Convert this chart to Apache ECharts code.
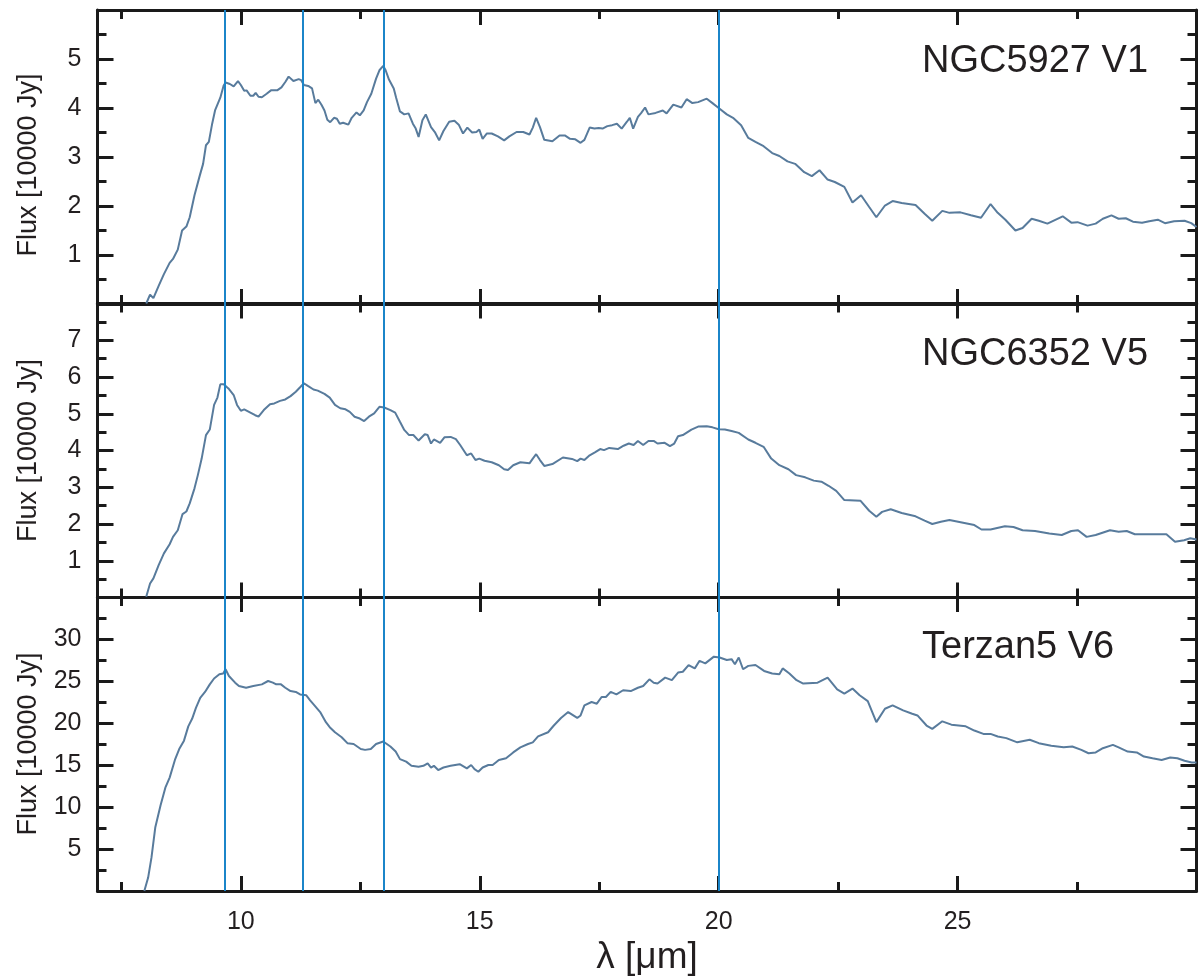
<!DOCTYPE html>
<html>
<head>
<meta charset="utf-8">
<script src="https://cdn.jsdelivr.net/npm/echarts@6/dist/echarts.min.js"></script>
<style>
  html, body { margin: 0; padding: 0; background: #ffffff; }
  #chart { width: 1200px; height: 978px; }
</style>
</head>
<body>
<div id="chart"></div>
<script>
// Wavelength axis (micron)
const xMin = 7;
const xMax = 30;
const xMajorTicks = [10, 15, 20, 25];
const xMinorTicks = [7.5, 12.5, 17.5, 22.5, 27.5];
const featureLines = [9.67, 11.3, 13.0, 20.0];

const panelNames = ['NGC5927 V1', 'NGC6352 V5', 'Terzan5 V6'];
const panelYMax = [6, 8, 35];
const panelYInterval = [1, 1, 5];
const panelYLabels = [
    [1, 2, 3, 4, 5],
    [1, 2, 3, 4, 5, 6, 7],
    [5, 10, 15, 20, 25, 30]
];

// [wavelength, flux]
const ngc5927 = [[8.02,0.01],[8.10,0.19],[8.17,0.12],[8.28,0.37],[8.39,0.61],[8.51,0.84],[8.58,0.92],[8.68,1.11],[8.77,1.50],[8.86,1.58],[8.93,1.77],[9.03,2.22],[9.14,2.62],[9.21,2.86],[9.27,3.24],[9.33,3.31],[9.40,3.68],[9.46,3.95],[9.57,4.21],[9.64,4.46],[9.68,4.52],[9.77,4.49],[9.85,4.44],[9.94,4.55],[10.0,4.47],[10.07,4.35],[10.12,4.36],[10.20,4.25],[10.26,4.25],[10.31,4.31],[10.37,4.23],[10.44,4.22],[10.54,4.29],[10.63,4.36],[10.76,4.36],[10.85,4.42],[10.93,4.53],[11.00,4.64],[11.10,4.55],[11.21,4.59],[11.26,4.57],[11.32,4.47],[11.41,4.45],[11.49,4.40],[11.56,4.10],[11.62,4.17],[11.69,4.06],[11.75,3.95],[11.81,3.76],[11.87,3.71],[11.95,3.80],[12.01,3.78],[12.07,3.68],[12.14,3.70],[12.25,3.66],[12.32,3.80],[12.42,3.91],[12.49,3.85],[12.57,3.95],[12.64,4.12],[12.73,4.29],[12.83,4.60],[12.90,4.77],[12.98,4.86],[13.03,4.77],[13.10,4.58],[13.20,4.40],[13.25,4.21],[13.33,3.93],[13.42,3.87],[13.51,3.89],[13.60,3.68],[13.66,3.58],[13.72,3.41],[13.80,3.75],[13.87,3.87],[13.98,3.61],[14.06,3.51],[14.15,3.34],[14.24,3.53],[14.36,3.72],[14.47,3.74],[14.56,3.66],[14.65,3.48],[14.74,3.60],[14.84,3.50],[14.93,3.51],[14.99,3.56],[15.06,3.37],[15.15,3.48],[15.25,3.48],[15.38,3.42],[15.51,3.34],[15.62,3.42],[15.77,3.51],[15.91,3.51],[16.04,3.46],[16.11,3.60],[16.18,3.80],[16.26,3.61],[16.35,3.35],[16.52,3.32],[16.67,3.44],[16.78,3.44],[16.89,3.37],[17.00,3.36],[17.11,3.29],[17.19,3.35],[17.30,3.60],[17.40,3.58],[17.49,3.59],[17.57,3.58],[17.67,3.63],[17.77,3.65],[17.87,3.68],[17.97,3.58],[18.08,3.72],[18.14,3.80],[18.21,3.58],[18.31,3.82],[18.38,3.90],[18.46,4.01],[18.53,3.87],[18.68,3.90],[18.83,3.95],[18.91,3.89],[19.05,4.07],[19.22,4.01],[19.33,4.18],[19.45,4.10],[19.57,4.12],[19.75,4.19],[19.87,4.10],[20.0,4.00],[20.17,3.87],[20.30,3.80],[20.47,3.65],[20.62,3.39],[20.77,3.31],[20.94,3.22],[21.12,3.08],[21.27,3.02],[21.44,2.91],[21.60,2.86],[21.79,2.69],[21.95,2.61],[22.11,2.73],[22.28,2.54],[22.43,2.49],[22.63,2.39],[22.80,2.07],[22.98,2.22],[23.15,1.98],[23.30,1.77],[23.48,2.01],[23.64,2.10],[23.83,2.06],[24.12,2.02],[24.31,1.84],[24.47,1.70],[24.68,1.90],[24.83,1.86],[25.06,1.87],[25.28,1.81],[25.49,1.76],[25.69,2.04],[25.84,1.86],[26.00,1.72],[26.21,1.50],[26.36,1.55],[26.55,1.74],[26.70,1.70],[26.88,1.64],[27.20,1.79],[27.38,1.66],[27.51,1.67],[27.72,1.60],[27.89,1.64],[28.04,1.74],[28.22,1.81],[28.37,1.74],[28.52,1.75],[28.67,1.68],[28.86,1.66],[29.01,1.69],[29.19,1.72],[29.34,1.65],[29.53,1.69],[29.75,1.70],[29.89,1.65],[30.0,1.57]];

const ngc6352 = [[8.02,0.02],[8.10,0.38],[8.17,0.52],[8.28,0.88],[8.39,1.20],[8.51,1.45],[8.58,1.65],[8.68,1.83],[8.78,2.27],[8.86,2.34],[8.93,2.56],[9.03,2.97],[9.10,3.33],[9.18,3.78],[9.27,4.42],[9.35,4.57],[9.44,5.24],[9.51,5.44],[9.57,5.80],[9.64,5.80],[9.74,5.69],[9.85,5.51],[9.92,5.24],[10.0,5.08],[10.07,5.12],[10.20,5.03],[10.30,4.96],[10.37,4.92],[10.48,5.10],[10.61,5.26],[10.70,5.28],[10.82,5.35],[10.93,5.39],[11.04,5.48],[11.15,5.60],[11.24,5.72],[11.32,5.83],[11.41,5.75],[11.52,5.66],[11.61,5.63],[11.75,5.54],[11.86,5.44],[11.97,5.24],[12.08,5.15],[12.19,5.12],[12.28,5.05],[12.38,4.92],[12.49,4.87],[12.58,4.80],[12.68,4.92],[12.79,5.01],[12.90,5.19],[13.00,5.17],[13.13,5.10],[13.23,5.03],[13.33,4.78],[13.42,4.56],[13.52,4.42],[13.61,4.42],[13.72,4.27],[13.85,4.44],[13.91,4.42],[13.98,4.19],[14.04,4.30],[14.17,4.21],[14.26,4.36],[14.39,4.37],[14.50,4.31],[14.59,4.15],[14.73,3.87],[14.82,3.92],[14.91,3.74],[14.99,3.78],[15.10,3.72],[15.25,3.68],[15.40,3.60],[15.51,3.49],[15.59,3.47],[15.70,3.60],[15.85,3.68],[16.04,3.65],[16.11,3.78],[16.18,3.90],[16.26,3.74],[16.35,3.58],[16.52,3.63],[16.74,3.81],[16.93,3.77],[17.04,3.71],[17.11,3.78],[17.19,3.74],[17.30,3.87],[17.41,3.95],[17.52,4.04],[17.60,4.01],[17.71,4.07],[17.89,4.04],[18.01,4.13],[18.12,4.19],[18.22,4.15],[18.31,4.26],[18.42,4.15],[18.53,4.26],[18.64,4.26],[18.72,4.19],[18.87,4.21],[18.98,4.12],[19.07,4.19],[19.15,4.39],[19.25,4.42],[19.43,4.57],[19.57,4.65],[19.75,4.66],[19.87,4.63],[20.0,4.58],[20.13,4.57],[20.27,4.53],[20.42,4.48],[20.62,4.30],[20.77,4.21],[20.94,4.10],[21.10,3.78],[21.27,3.60],[21.46,3.49],[21.62,3.33],[21.81,3.27],[21.99,3.18],[22.15,3.15],[22.30,3.04],[22.46,2.90],[22.63,2.65],[22.97,2.63],[23.15,2.36],[23.30,2.20],[23.42,2.33],[23.60,2.40],[23.83,2.30],[24.12,2.21],[24.31,2.09],[24.47,2.00],[24.65,2.06],[24.83,2.11],[25.09,2.04],[25.35,1.97],[25.50,1.85],[25.69,1.85],[25.99,1.94],[26.17,1.92],[26.36,1.83],[26.62,1.81],[26.92,1.74],[27.18,1.70],[27.38,1.81],[27.52,1.83],[27.70,1.65],[27.89,1.70],[28.19,1.83],[28.37,1.79],[28.54,1.81],[28.71,1.72],[28.90,1.72],[29.12,1.72],[29.37,1.72],[29.55,1.52],[29.74,1.56],[29.87,1.61],[30.0,1.58]];

const terzan5 = [[7.98,0.0],[8.06,1.6],[8.13,4.0],[8.21,7.6],[8.32,10.2],[8.42,12.3],[8.51,13.5],[8.62,15.6],[8.71,16.9],[8.81,17.9],[8.90,19.6],[8.98,20.5],[9.06,21.8],[9.15,23.0],[9.25,23.7],[9.35,24.6],[9.44,25.3],[9.55,25.8],[9.63,25.9],[9.68,26.4],[9.75,25.6],[9.88,24.8],[9.96,24.4],[10.11,24.2],[10.26,24.4],[10.44,24.6],[10.57,25.0],[10.67,24.8],[10.74,24.6],[10.84,24.6],[10.93,24.2],[11.04,23.8],[11.15,23.7],[11.24,23.4],[11.37,23.3],[11.45,22.7],[11.54,22.1],[11.66,21.3],[11.78,20.1],[11.86,19.5],[11.97,18.9],[12.11,18.3],[12.23,17.6],[12.36,17.5],[12.51,16.9],[12.60,16.8],[12.72,16.9],[12.83,17.5],[12.98,17.8],[13.13,17.2],[13.24,16.6],[13.33,15.7],[13.46,15.4],[13.57,14.9],[13.72,14.8],[13.82,14.9],[13.91,15.2],[13.98,14.7],[14.04,14.9],[14.13,14.4],[14.24,14.7],[14.39,14.9],[14.58,15.1],[14.73,14.6],[14.82,15.0],[14.89,14.5],[14.97,14.2],[15.06,14.7],[15.18,15.0],[15.27,15.0],[15.40,15.6],[15.55,15.8],[15.70,16.5],[15.85,17.1],[16.01,17.5],[16.11,17.7],[16.22,18.4],[16.43,18.9],[16.55,19.7],[16.70,20.6],[16.85,21.3],[17.04,20.6],[17.11,20.9],[17.19,22.1],[17.34,22.5],[17.45,22.3],[17.55,23.1],[17.64,23.1],[17.74,23.7],[17.86,23.4],[18.00,23.9],[18.16,23.8],[18.31,24.2],[18.42,24.4],[18.55,25.2],[18.64,24.8],[18.72,24.7],[18.88,25.4],[19.02,25.1],[19.15,26.0],[19.25,26.1],[19.37,26.9],[19.50,26.5],[19.60,27.4],[19.72,27.1],[19.90,27.9],[20.02,27.8],[20.17,27.5],[20.27,27.6],[20.34,27.0],[20.42,27.8],[20.51,26.4],[20.62,26.8],[20.77,26.9],[20.95,26.2],[21.12,25.9],[21.27,25.8],[21.34,26.5],[21.48,25.9],[21.63,25.1],[21.77,24.7],[22.07,24.8],[22.28,25.4],[22.48,24.0],[22.63,23.5],[22.80,24.1],[22.95,23.3],[23.12,22.6],[23.30,20.1],[23.48,21.7],[23.64,22.1],[23.86,21.5],[24.05,21.1],[24.16,20.9],[24.35,19.7],[24.47,19.3],[24.68,20.2],[24.87,19.8],[25.17,19.6],[25.35,19.1],[25.54,18.7],[25.69,18.7],[25.84,18.4],[26.02,18.2],[26.25,17.7],[26.51,18.0],[26.70,17.6],[26.96,17.3],[27.22,17.1],[27.40,17.2],[27.59,16.8],[27.74,16.4],[27.89,16.5],[28.04,17.0],[28.25,17.4],[28.37,17.1],[28.56,16.6],[28.75,16.5],[28.90,16.0],[29.08,15.8],[29.27,15.6],[29.45,15.9],[29.60,15.8],[29.75,15.5],[29.90,15.3],[30.0,15.3]];

const panelData = [ngc5927, ngc6352, terzan5];

const FONT = '"Liberation Sans", Arial, Helvetica, sans-serif';
const INK = '#231f20';
const FRAME = '#1a1a1a';
const SPECTRUM = '#587b9c';
const FEATURE = '#1b85c9';

const gridTops = [10, 303.5, 597];
const gridHeight = 294;

const chart = echarts.init(document.getElementById('chart'), null, { renderer: 'canvas' });

const grids = gridTops.map(top => ({
    left: 97.5,
    right: 3.5,
    top: top,
    height: gridHeight,
    containLabel: false,
    outerBoundsMode: 'none'
}));

// four x axes per panel: major/minor ticks on bottom and top
function makeXAxis(gridIndex, position, ticks, tickLen, isMain, showLabels) {
    return {
        type: 'value',
        gridIndex,
        position,
        min: xMin,
        max: xMax,
        axisLine: { show: isMain, onZero: false, lineStyle: { color: FRAME, width: 3 } },
        axisTick: { show: true, inside: true, length: tickLen, customValues: ticks, lineStyle: { color: FRAME, width: 3 } },
        axisLabel: showLabels ? {
            show: true,
            customValues: xMajorTicks,
            margin: 19,
            color: INK,
            fontFamily: FONT,
            fontSize: 25
        } : { show: false },
        splitLine: { show: false },
        name: showLabels ? 'λ [μm]' : '',
        nameLocation: 'middle',
        nameGap: 48,
        nameMoveOverlap: false,
        nameTextStyle: { color: INK, fontFamily: FONT, fontSize: 37 }
    };
}

const xAxes = [];
const yAxes = [];
panelNames.forEach((name, i) => {
    const last = i === panelNames.length - 1;
    xAxes.push(makeXAxis(i, 'bottom', xMajorTicks, 15, true, last));
    xAxes.push(makeXAxis(i, 'bottom', xMinorTicks, 9, false, false));
    xAxes.push(makeXAxis(i, 'top', xMajorTicks, 15, true, false));
    xAxes.push(makeXAxis(i, 'top', xMinorTicks, 9, false, false));

    ['left', 'right'].forEach(position => {
        const isLeft = position === 'left';
        yAxes.push({
            type: 'value',
            gridIndex: i,
            position,
            min: 0,
            max: panelYMax[i],
            interval: panelYInterval[i],
            axisLine: { show: true, onZero: false, lineStyle: { color: FRAME, width: 3 } },
            axisTick: { show: true, inside: true, length: 16, lineStyle: { color: FRAME, width: 3 } },
            minorTick: { show: true, splitNumber: 2, length: 9, lineStyle: { color: FRAME, width: 3 } },
            axisLabel: isLeft ? {
                show: true,
                customValues: panelYLabels[i],
                margin: 16,
                color: INK,
                fontFamily: FONT,
                fontSize: 25
            } : { show: false },
            splitLine: { show: false },
            minorSplitLine: { show: false },
            name: isLeft ? 'Flux [10000 Jy]' : '',
            nameLocation: 'middle',
            nameGap: 55,
            nameMoveOverlap: false,
            nameTextStyle: {
                color: INK,
                fontFamily: FONT,
                fontSize: 27,
                padding: i === 0 ? [0, 16, 0, 0] : 0
            }
        });
    });
});

const series = panelData.map((data, i) => ({
    name: panelNames[i],
    type: 'line',
    xAxisIndex: i * 4,
    yAxisIndex: i * 2,
    data: data,
    showSymbol: false,
    symbol: 'none',
    clip: true,
    lineStyle: { color: SPECTRUM, width: 2 },
    emphasis: { disabled: true },
    markLine: {
        silent: true,
        symbol: 'none',
        animation: false,
        label: { show: false },
        lineStyle: { color: FEATURE, width: 2, type: 'solid' },
        emphasis: { disabled: true },
        data: featureLines.map(v => ({ xAxis: v }))
    }
}));

const labelCenters = [62, 355, 648];
const graphic = panelNames.map((name, i) => ({
    type: 'text',
    x: 922,
    y: labelCenters[i],
    silent: true,
    style: {
        text: name,
        fill: INK,
        font: '38px ' + FONT,
        align: 'left',
        verticalAlign: 'middle'
    }
}));

chart.setOption({
    animation: false,
    backgroundColor: '#ffffff',
    grid: grids,
    xAxis: xAxes,
    yAxis: yAxes,
    series: series,
    graphic: graphic
});
</script>
</body>
</html>
